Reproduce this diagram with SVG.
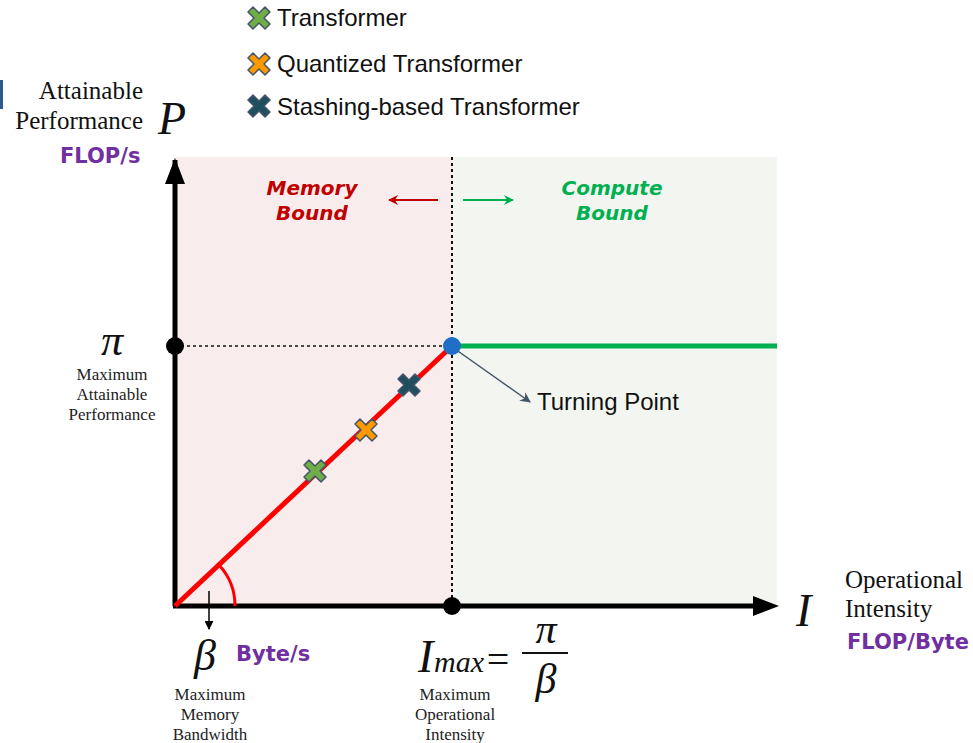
<svg xmlns="http://www.w3.org/2000/svg" width="973" height="743" viewBox="0 0 973 743">
<style>
.serif{font-family:"Liberation Serif","DejaVu Serif",serif;fill:#111}
.lbl{font-family:"Liberation Serif","DejaVu Serif",serif;font-size:17px;fill:#222;text-anchor:middle}
.big{font-family:"Liberation Serif","DejaVu Serif",serif;font-size:25px;fill:#111}
.unit{font-family:"DejaVu Sans","Liberation Sans",sans-serif;font-weight:bold;font-size:21px;fill:#7030A0}
.leg{font-family:"Liberation Sans","Arial",sans-serif;font-size:24px;fill:#111}
.bound{font-family:"DejaVu Sans","Liberation Sans",sans-serif;font-weight:bold;font-style:italic;font-size:20px;text-anchor:middle}
.math{font-family:"Liberation Serif","DejaVu Serif",serif;font-style:italic;fill:#111}
.xm{stroke:#44546A;stroke-width:1.5;stroke-linejoin:round}
</style>
<defs>
<marker id="ah" viewBox="0 0 10 10" refX="9" refY="5" markerWidth="6" markerHeight="6" orient="auto"><path d="M0,0L10,5L0,10z" fill="#000"/></marker>
<marker id="ahr" viewBox="0 0 10 10" refX="9" refY="5" markerWidth="5" markerHeight="5" orient="auto"><path d="M0,0L10,5L0,10L3,5z" fill="#C00000"/></marker>
<marker id="ahg" viewBox="0 0 10 10" refX="9" refY="5" markerWidth="5" markerHeight="5" orient="auto"><path d="M0,0L10,5L0,10L3,5z" fill="#00B050"/></marker>
<marker id="ahs" viewBox="0 0 10 10" refX="9" refY="5" markerWidth="7" markerHeight="7" orient="auto"><path d="M0,0L10,5L0,10L3,5z" fill="#44546A"/></marker>
<path id="xs" d="M-6,-11L0,-5L6,-11L11,-6L5,0L11,6L6,11L0,5L-6,11L-11,6L-5,0L-11,-6z"/>
</defs>
<rect x="0" y="80" width="3" height="29" fill="#2E5C8A"/>
<g id="regions">
<rect x="175" y="157" width="277" height="449" fill="#F8ECEC"/>
<rect x="452" y="157" width="325" height="449" fill="#F3F6F0"/>
</g>
<g id="connectors">
<line x1="452" y1="157" x2="452" y2="606" stroke="#111" stroke-width="2" stroke-dasharray="3,3"/>
<line x1="175" y1="346" x2="452" y2="346" stroke="#111" stroke-width="1.5" stroke-dasharray="3,3"/>
<line x1="175" y1="606" x2="175" y2="160" stroke="#000" stroke-width="5"/>
<path d="M175,158L165,184L185,184z" fill="#000"/>
<line x1="173" y1="606" x2="755" y2="606" stroke="#000" stroke-width="5"/>
<path d="M779,606L753,596L753,616z" fill="#000"/>
<line x1="175" y1="606" x2="452" y2="346" stroke="#FF0000" stroke-width="5"/>
<line x1="452" y1="346" x2="777" y2="346" stroke="#00B050" stroke-width="5"/>
<path d="M235,606A60,60 0 0 0 219,565" fill="none" stroke="#FF0000" stroke-width="3"/>
<line x1="209" y1="591" x2="209" y2="629" stroke="#000" stroke-width="1.5" marker-end="url(#ah)"/>
<line x1="438" y1="200" x2="389" y2="200" stroke="#C00000" stroke-width="2" marker-end="url(#ahr)"/>
<line x1="463" y1="200" x2="513" y2="200" stroke="#00B050" stroke-width="2" marker-end="url(#ahg)"/>
<line x1="455" y1="349" x2="530" y2="402" stroke="#44546A" stroke-width="1.5" marker-end="url(#ahs)"/>
</g>
<g id="dots">
<circle cx="175" cy="346" r="9" fill="#000"/>
<circle cx="452" cy="606" r="9" fill="#000"/>
<circle cx="452" cy="346" r="9" fill="#1F6FC8"/>
</g>
<g id="markers">
<use href="#xs" x="315" y="471" fill="#70AD47" class="xm"/>
<use href="#xs" x="366" y="430" fill="#FF9900" class="xm"/>
<use href="#xs" x="409" y="385" fill="#1F4E5F" class="xm"/>
</g>
<g id="legend">
<use href="#xs" x="259" y="18" fill="#70AD47" class="xm"/>
<text x="277" y="26" class="leg">Transformer</text>
<use href="#xs" x="259" y="64" fill="#FF9900" class="xm"/>
<text x="277" y="72" class="leg">Quantized Transformer</text>
<use href="#xs" x="259" y="106" fill="#1F4E5F" class="xm"/>
<text x="277" y="115" class="leg">Stashing-based Transformer</text>
</g>
<g id="bounds">
<text x="312" y="195" class="bound" fill="#C00000">Memory</text>
<text x="312" y="220" class="bound" fill="#C00000">Bound</text>
<text x="612" y="195" class="bound" fill="#00B050">Compute</text>
<text x="612" y="220" class="bound" fill="#00B050">Bound</text>
</g>
<g id="y-axis-label">
<text x="143" y="99" class="big" text-anchor="end">Attainable</text>
<text x="143" y="129" class="big" text-anchor="end">Performance</text>
<text x="158" y="134" class="math" font-size="46">P</text>
<text x="60" y="163" class="unit">FLOP/s</text>
</g>
<g id="pi-label">
<text x="112" y="355" class="math" font-size="44" text-anchor="middle">π</text>
<text x="112" y="380" class="lbl">Maximum</text>
<text x="112" y="400" class="lbl">Attainable</text>
<text x="112" y="420" class="lbl">Performance</text>
</g>
<g id="beta-label">
<text x="205" y="670" class="math" font-size="44" text-anchor="middle">β</text>
<text x="236" y="661" class="unit">Byte/s</text>
<text x="210" y="700" class="lbl">Maximum</text>
<text x="210" y="720" class="lbl">Memory</text>
<text x="210" y="740" class="lbl">Bandwidth</text>
</g>
<g id="imax-label">
<text x="418" y="672" class="math" font-size="46">I</text>
<text x="434" y="672" class="math" font-size="30">max</text>
<text x="498" y="673" class="serif" font-size="40" text-anchor="middle">=</text>
<line x1="522" y1="653" x2="568" y2="653" stroke="#111" stroke-width="2"/>
<text x="546" y="643" class="math" font-size="42" text-anchor="middle">π</text>
<text x="546" y="693" class="math" font-size="42" text-anchor="middle">β</text>
<text x="455" y="700" class="lbl">Maximum</text>
<text x="455" y="720" class="lbl">Operational</text>
<text x="455" y="740" class="lbl">Intensity</text>
</g>
<g id="x-axis-label">
<text x="796" y="626" class="math" font-size="46">I</text>
<text x="845" y="588" class="big">Operational</text>
<text x="845" y="617" class="big">Intensity</text>
<text x="847" y="649" class="unit">FLOP/Byte</text>
</g>
<text x="537" y="410" class="leg">Turning Point</text>
</svg>
